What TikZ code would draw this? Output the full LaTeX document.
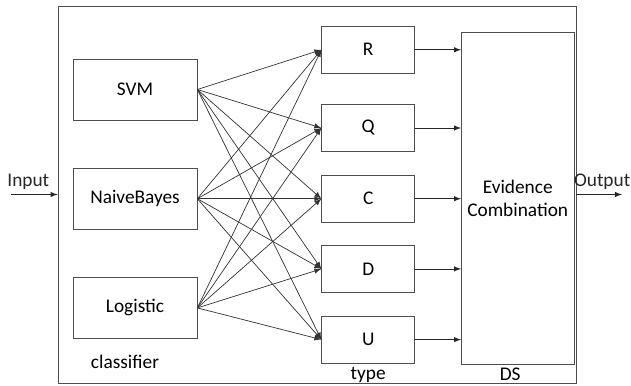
\documentclass[tikz,border=0pt]{standalone}
\usepackage{fontspec}
\setmainfont{Carlito}
\usepackage{tikz}
\usetikzlibrary{arrows, positioning}

\begin{document}
\begin{tikzpicture}[
    font=\fontsize{11}{13}\selectfont,
    clf/.style={rectangle, draw=black!70, align=center, minimum width=2.48cm, minimum height=1.22cm, fill=white},
    typebox/.style={rectangle, draw=black!70, align=center, minimum width=1.86cm, minimum height=0.94cm, fill=white},
    evbox/.style={rectangle, draw=black!70, align=center, minimum width=2.18cm, minimum height=6.64cm},
    line/.style={draw, black!85, -latex},
    cross/.style={draw, black!80, line width=0.4pt, -latex}
]
\useasboundingbox (0,0) rectangle (12.62,7.7);

% Outer frame
\node[draw=black!70, minimum width=10.36cm, minimum height=7.54cm] (frame) at (6.34,3.81) {};

% Classifiers
\node[clf] (svm) at (2.70,5.91) {SVM};
\node[clf, below=0.95cm of svm] (nb) {NaiveBayes};
\node[clf, below=0.95cm of nb] (log) {Logistic};

% Types
\node[typebox, right=2.48cm of nb] (c) {C};
\node[typebox, above=0.46cm of c] (q) {Q};
\node[typebox, above=0.61cm of q] (r) {R};
\node[typebox, below=0.45cm of c] (d) {D};
\node[typebox, below=0.46cm of d] (u) {U};

% Evidence combination
\node[evbox, right=0.92cm of c] (ev) {Evidence\\Combination};

% Labels
\node[below=0.2cm of log, xshift=-0.2cm] (lclf) {classifier};
\node[below=-0.05cm of u] (ltype) {type};
\node[below=0.02cm of ev, inner sep=1pt, xshift=-0.15cm] (lds) {DS};

% Input / Output
\coordinate (in) at (0.22,3.81);
\coordinate (out) at (12.44,3.81);
\draw[line] (in) -- node[above=-1pt, xshift=-0.12cm] (lin) {Input} (frame.west);
\draw[line] (frame.east) -- node[above=-1pt, xshift=0.06cm] (lout) {Output} (out);

% All classifiers to all types
\foreach \s in {svm,nb,log}
  \foreach \t in {r,q,c,d,u}
    \draw[cross] (\s.east) -- (\t.west);

% Types to evidence
\foreach \t in {r,q,c,d,u}
  \draw[line] (\t.east) -- (\t.east -| ev.west);

\end{tikzpicture}
\end{document}
